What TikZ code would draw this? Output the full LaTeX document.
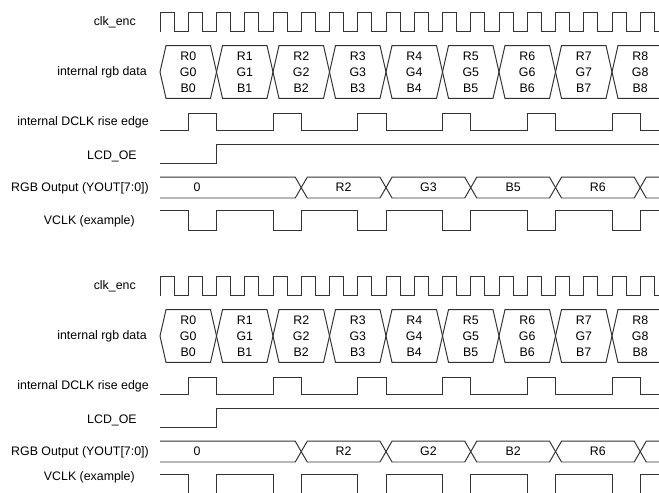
\documentclass[tikz,border=0pt]{standalone}
\usepackage{fontspec}
\setmainfont{Liberation Sans}
\usepackage{tikz}

\tikzset{
  sig/.style={draw=black!80, line width=0.7pt, line join=miter},
  sname/.style={anchor=east, inner sep=0pt},
  val/.style={inner sep=0pt, align=center}
}

\begin{document}
\begin{tikzpicture}[font=\fontsize{8.8}{11.5}\selectfont]
  \useasboundingbox (0cm,0cm) rectangle (16.475cm,-12.325cm);
  \filldraw[fill=white, draw=none] (0cm,0cm) rectangle (16.475cm,-12.325cm);

  % upper diagram
  \node[sname] (nclk1) at (3.4cm,-0.56cm) {clk\_enc};
  \node[sname] (nrgb1) at (3.675cm,-1.8cm) {internal rgb data};
  \node[sname] (ndclk1) at (3.725cm,-3.06cm) {internal DCLK rise edge};
  \node[sname] (noe1) at (3.425cm,-3.9cm) {LCD\_OE};
  \node[sname] (nout1) at (3.725cm,-4.7cm) {RGB Output (YOUT[7:0])};
  \node[sname] (nvclk1) at (3.375cm,-5.54cm) {VCLK (example)};

  \draw[sig] (4cm,-0.79cm) |- (4.353cm,-0.32cm) |- (4.706cm,-0.79cm) |- (5.059cm,-0.32cm) |- (5.413cm,-0.79cm) |- (5.766cm,-0.32cm) |- (6.119cm,-0.79cm) |- (6.472cm,-0.32cm) |- (6.825cm,-0.79cm) |- (7.178cm,-0.32cm) |- (7.531cm,-0.79cm) |- (7.884cm,-0.32cm) |- (8.238cm,-0.79cm) |- (8.591cm,-0.32cm) |- (8.944cm,-0.79cm) |- (9.297cm,-0.32cm) |- (9.65cm,-0.79cm) |- (10.003cm,-0.32cm) |- (10.356cm,-0.79cm) |- (10.709cm,-0.32cm) |- (11.063cm,-0.79cm) |- (11.416cm,-0.32cm) |- (11.769cm,-0.79cm) |- (12.122cm,-0.32cm) |- (12.475cm,-0.79cm) |- (12.828cm,-0.32cm) |- (13.181cm,-0.79cm) |- (13.534cm,-0.32cm) |- (13.888cm,-0.79cm) |- (14.241cm,-0.32cm) |- (14.594cm,-0.79cm) |- (14.947cm,-0.32cm) |- (15.3cm,-0.79cm) |- (15.653cm,-0.32cm) |- (16.006cm,-0.79cm) |- (16.359cm,-0.32cm) |- (16.5cm,-0.79cm);

  \draw[sig] (4cm,-1.8cm) -- (4.15cm,-1.14cm) -- (5.263cm,-1.14cm) -- (5.563cm,-2.46cm) -- (6.675cm,-2.46cm) -- (6.975cm,-1.14cm) -- (8.088cm,-1.14cm) -- (8.388cm,-2.46cm) -- (9.5cm,-2.46cm) -- (9.8cm,-1.14cm) -- (10.913cm,-1.14cm) -- (11.213cm,-2.46cm) -- (12.325cm,-2.46cm) -- (12.625cm,-1.14cm) -- (13.738cm,-1.14cm) -- (14.038cm,-2.46cm) -- (15.15cm,-2.46cm) -- (15.45cm,-1.14cm) -- (16.5cm,-1.14cm);
  \draw[sig] (4cm,-1.8cm) -- (4.15cm,-2.46cm) -- (5.263cm,-2.46cm) -- (5.563cm,-1.14cm) -- (6.675cm,-1.14cm) -- (6.975cm,-2.46cm) -- (8.088cm,-2.46cm) -- (8.388cm,-1.14cm) -- (9.5cm,-1.14cm) -- (9.8cm,-2.46cm) -- (10.913cm,-2.46cm) -- (11.213cm,-1.14cm) -- (12.325cm,-1.14cm) -- (12.625cm,-2.46cm) -- (13.738cm,-2.46cm) -- (14.038cm,-1.14cm) -- (15.15cm,-1.14cm) -- (15.45cm,-2.46cm) -- (16.5cm,-2.46cm);
  \node[val] (d0a) at (4.706cm,-1.8cm) {R0\\G0\\B0};
  \node[val] (d1a) at (6.119cm,-1.8cm) {R1\\G1\\B1};
  \node[val] (d2a) at (7.531cm,-1.8cm) {R2\\G2\\B2};
  \node[val] (d3a) at (8.944cm,-1.8cm) {R3\\G3\\B3};
  \node[val] (d4a) at (10.356cm,-1.8cm) {R4\\G4\\B4};
  \node[val] (d5a) at (11.769cm,-1.8cm) {R5\\G5\\B5};
  \node[val] (d6a) at (13.181cm,-1.8cm) {R6\\G6\\B6};
  \node[val] (d7a) at (14.594cm,-1.8cm) {R7\\G7\\B7};
  \node[val] (d8a) at (16.006cm,-1.8cm) {R8\\G8\\B8};

  \draw[sig] (4cm,-3.26cm) -| (4.706cm,-2.83cm) -| (5.413cm,-3.26cm) -| (6.825cm,-2.83cm) -| (7.531cm,-3.26cm) -| (8.944cm,-2.83cm) -| (9.65cm,-3.26cm) -| (11.063cm,-2.83cm) -| (11.769cm,-3.26cm) -| (13.181cm,-2.83cm) -| (13.888cm,-3.26cm) -| (15.3cm,-2.83cm) -| (16.006cm,-3.26cm) -- (16.5cm,-3.26cm);

  \draw[sig] (4cm,-4.09cm) -| (5.413cm,-3.6cm) -- (16.5cm,-3.6cm);

  \draw[sig] (4cm,-4.43cm) -- (7.381cm,-4.43cm) -- (7.681cm,-4.95cm) -- (9.5cm,-4.95cm) -- (9.8cm,-4.43cm) -- (11.619cm,-4.43cm) -- (11.919cm,-4.95cm) -- (13.738cm,-4.95cm) -- (14.038cm,-4.43cm) -- (15.856cm,-4.43cm) -- (16.156cm,-4.95cm) -- (16.5cm,-4.95cm);
  \draw[sig] (4cm,-4.95cm) -- (7.381cm,-4.95cm) -- (7.681cm,-4.43cm) -- (9.5cm,-4.43cm) -- (9.8cm,-4.95cm) -- (11.619cm,-4.95cm) -- (11.919cm,-4.43cm) -- (13.738cm,-4.43cm) -- (14.038cm,-4.95cm) -- (15.856cm,-4.95cm) -- (16.156cm,-4.43cm) -- (16.5cm,-4.43cm);
  \node[val] (o0a) at (4.925cm,-4.69cm) {0};
  \node[val] (o1a) at (8.59cm,-4.69cm) {R2};
  \node[val] (o2a) at (10.71cm,-4.69cm) {G3};
  \node[val] (o3a) at (12.83cm,-4.69cm) {B5};
  \node[val] (o4a) at (14.947cm,-4.69cm) {R6};

  \draw[sig] (4cm,-5.26cm) -| (4.706cm,-5.75cm) -| (5.413cm,-5.26cm) -| (6.825cm,-5.75cm) -| (7.531cm,-5.26cm) -| (8.944cm,-5.75cm) -| (9.65cm,-5.26cm) -| (11.063cm,-5.75cm) -| (11.769cm,-5.26cm) -| (13.181cm,-5.75cm) -| (13.888cm,-5.26cm) -| (15.3cm,-5.75cm) -| (16.006cm,-5.26cm) -- (16.5cm,-5.26cm);

  % lower diagram
  \node[sname] (nclk2) at (3.4cm,-7.16cm) {clk\_enc};
  \node[sname] (nrgb2) at (3.675cm,-8.4cm) {internal rgb data};
  \node[sname] (ndclk2) at (3.725cm,-9.66cm) {internal DCLK rise edge};
  \node[sname] (noe2) at (3.425cm,-10.5cm) {LCD\_OE};
  \node[sname] (nout2) at (3.725cm,-11.3cm) {RGB Output (YOUT[7:0])};
  \node[sname] (nvclk2) at (3.375cm,-11.925cm) {VCLK (example)};

  \draw[sig] (4cm,-7.39cm) |- (4.353cm,-6.92cm) |- (4.706cm,-7.39cm) |- (5.059cm,-6.92cm) |- (5.413cm,-7.39cm) |- (5.766cm,-6.92cm) |- (6.119cm,-7.39cm) |- (6.472cm,-6.92cm) |- (6.825cm,-7.39cm) |- (7.178cm,-6.92cm) |- (7.531cm,-7.39cm) |- (7.884cm,-6.92cm) |- (8.238cm,-7.39cm) |- (8.591cm,-6.92cm) |- (8.944cm,-7.39cm) |- (9.297cm,-6.92cm) |- (9.65cm,-7.39cm) |- (10.003cm,-6.92cm) |- (10.356cm,-7.39cm) |- (10.709cm,-6.92cm) |- (11.063cm,-7.39cm) |- (11.416cm,-6.92cm) |- (11.769cm,-7.39cm) |- (12.122cm,-6.92cm) |- (12.475cm,-7.39cm) |- (12.828cm,-6.92cm) |- (13.181cm,-7.39cm) |- (13.534cm,-6.92cm) |- (13.888cm,-7.39cm) |- (14.241cm,-6.92cm) |- (14.594cm,-7.39cm) |- (14.947cm,-6.92cm) |- (15.3cm,-7.39cm) |- (15.653cm,-6.92cm) |- (16.006cm,-7.39cm) |- (16.359cm,-6.92cm) |- (16.5cm,-7.39cm);

  \draw[sig] (4cm,-8.4cm) -- (4.15cm,-7.74cm) -- (5.263cm,-7.74cm) -- (5.563cm,-9.06cm) -- (6.675cm,-9.06cm) -- (6.975cm,-7.74cm) -- (8.088cm,-7.74cm) -- (8.388cm,-9.06cm) -- (9.5cm,-9.06cm) -- (9.8cm,-7.74cm) -- (10.913cm,-7.74cm) -- (11.213cm,-9.06cm) -- (12.325cm,-9.06cm) -- (12.625cm,-7.74cm) -- (13.738cm,-7.74cm) -- (14.038cm,-9.06cm) -- (15.15cm,-9.06cm) -- (15.45cm,-7.74cm) -- (16.5cm,-7.74cm);
  \draw[sig] (4cm,-8.4cm) -- (4.15cm,-9.06cm) -- (5.263cm,-9.06cm) -- (5.563cm,-7.74cm) -- (6.675cm,-7.74cm) -- (6.975cm,-9.06cm) -- (8.088cm,-9.06cm) -- (8.388cm,-7.74cm) -- (9.5cm,-7.74cm) -- (9.8cm,-9.06cm) -- (10.913cm,-9.06cm) -- (11.213cm,-7.74cm) -- (12.325cm,-7.74cm) -- (12.625cm,-9.06cm) -- (13.738cm,-9.06cm) -- (14.038cm,-7.74cm) -- (15.15cm,-7.74cm) -- (15.45cm,-9.06cm) -- (16.5cm,-9.06cm);
  \node[val] (d0b) at (4.706cm,-8.4cm) {R0\\G0\\B0};
  \node[val] (d1b) at (6.119cm,-8.4cm) {R1\\G1\\B1};
  \node[val] (d2b) at (7.531cm,-8.4cm) {R2\\G2\\B2};
  \node[val] (d3b) at (8.944cm,-8.4cm) {R3\\G3\\B3};
  \node[val] (d4b) at (10.356cm,-8.4cm) {R4\\G4\\B4};
  \node[val] (d5b) at (11.769cm,-8.4cm) {R5\\G5\\B5};
  \node[val] (d6b) at (13.181cm,-8.4cm) {R6\\G6\\B6};
  \node[val] (d7b) at (14.594cm,-8.4cm) {R7\\G7\\B7};
  \node[val] (d8b) at (16.006cm,-8.4cm) {R8\\G8\\B8};

  \draw[sig] (4cm,-9.86cm) -| (4.706cm,-9.43cm) -| (5.413cm,-9.86cm) -| (6.825cm,-9.43cm) -| (7.531cm,-9.86cm) -| (8.944cm,-9.43cm) -| (9.65cm,-9.86cm) -| (11.063cm,-9.43cm) -| (11.769cm,-9.86cm) -| (13.181cm,-9.43cm) -| (13.888cm,-9.86cm) -| (15.3cm,-9.43cm) -| (16.006cm,-9.86cm) -- (16.5cm,-9.86cm);

  \draw[sig] (4cm,-10.69cm) -| (5.413cm,-10.2cm) -- (16.5cm,-10.2cm);

  \draw[sig] (4cm,-11.03cm) -- (7.381cm,-11.03cm) -- (7.681cm,-11.55cm) -- (9.5cm,-11.55cm) -- (9.8cm,-11.03cm) -- (11.619cm,-11.03cm) -- (11.919cm,-11.55cm) -- (13.738cm,-11.55cm) -- (14.038cm,-11.03cm) -- (15.856cm,-11.03cm) -- (16.156cm,-11.55cm) -- (16.5cm,-11.55cm);
  \draw[sig] (4cm,-11.55cm) -- (7.381cm,-11.55cm) -- (7.681cm,-11.03cm) -- (9.5cm,-11.03cm) -- (9.8cm,-11.55cm) -- (11.619cm,-11.55cm) -- (11.919cm,-11.03cm) -- (13.738cm,-11.03cm) -- (14.038cm,-11.55cm) -- (15.856cm,-11.55cm) -- (16.156cm,-11.03cm) -- (16.5cm,-11.03cm);
  \node[val] (o0b) at (4.925cm,-11.29cm) {0};
  \node[val] (o1b) at (8.59cm,-11.29cm) {R2};
  \node[val] (o2b) at (10.71cm,-11.29cm) {G2};
  \node[val] (o3b) at (12.83cm,-11.29cm) {B2};
  \node[val] (o4b) at (14.947cm,-11.29cm) {R6};

  \draw[sig] (4cm,-11.86cm) -| (4.706cm,-12.4cm) -| (5.413cm,-11.86cm) -| (6.825cm,-12.4cm) -| (7.531cm,-11.86cm) -| (8.944cm,-12.4cm) -| (9.65cm,-11.86cm) -| (11.063cm,-12.4cm) -| (11.769cm,-11.86cm) -| (13.181cm,-12.4cm) -| (13.888cm,-11.86cm) -| (15.3cm,-12.4cm) -| (16.006cm,-11.86cm) -- (16.5cm,-11.86cm);
\end{tikzpicture}
\end{document}
